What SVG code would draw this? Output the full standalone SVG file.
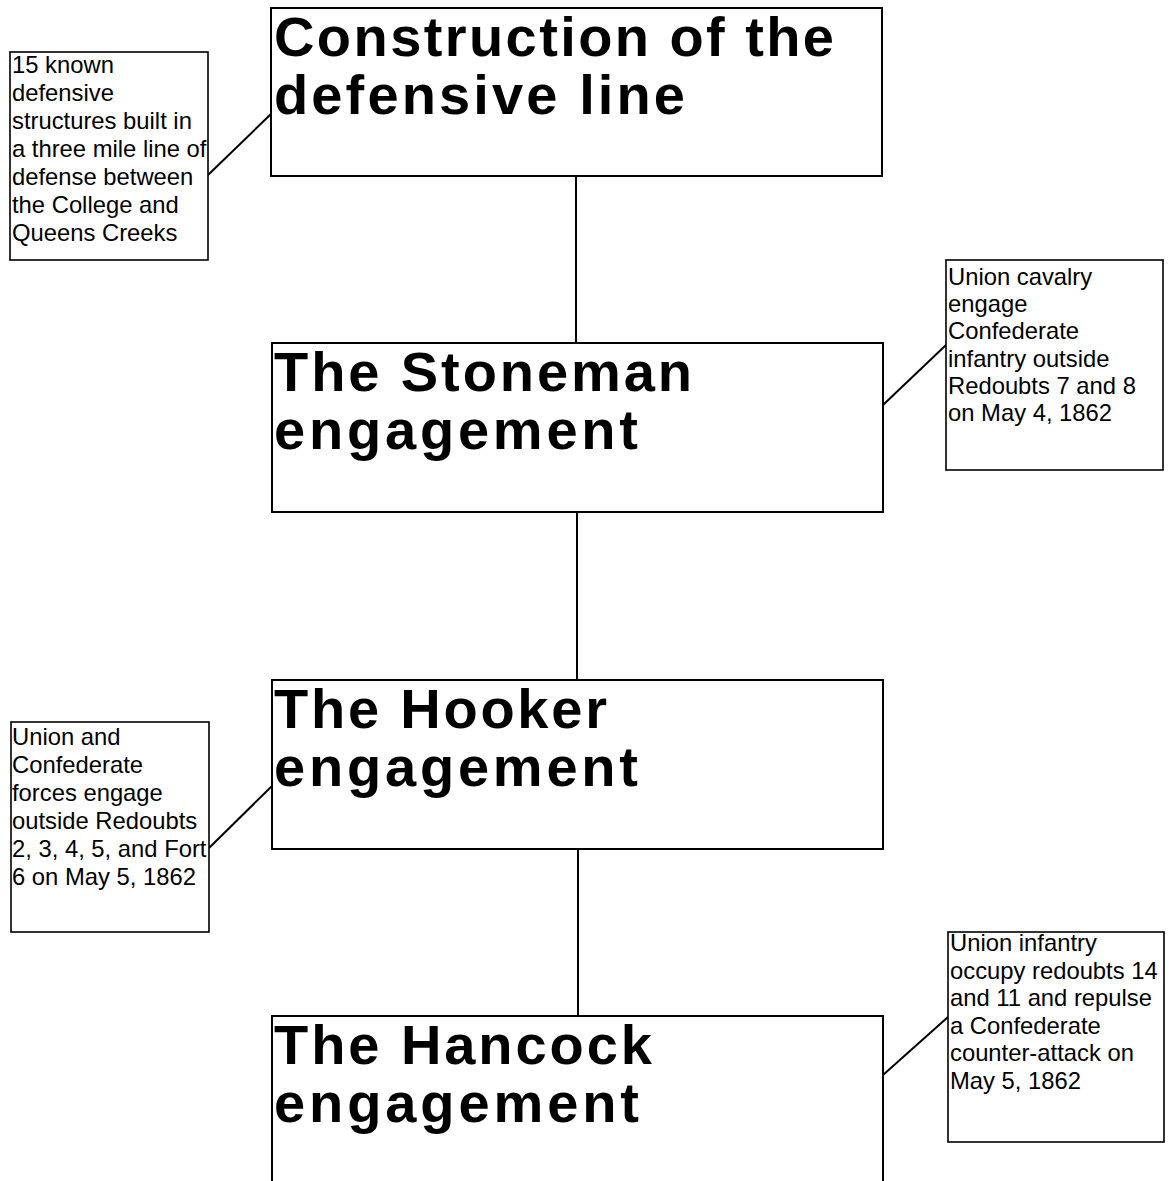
<svg xmlns="http://www.w3.org/2000/svg" width="1169" height="1181" viewBox="0 0 1169 1181">
<style>
.box{fill:#fff;stroke:#000;stroke-width:2}
.note{fill:#fff;stroke:#000;stroke-width:1.6}
.title{font-family:"Liberation Sans",Arial,sans-serif;font-weight:bold;font-size:56px;fill:#000}
.txt{font-family:"Liberation Sans",Arial,sans-serif;font-size:23.8px;fill:#000}
.conn{stroke:#000;stroke-width:2;fill:none}
</style>
<rect width="1169" height="1181" fill="#fff"/>
<g id="connectors">
<line class="conn" x1="576" y1="176" x2="576" y2="343"/>
<line class="conn" x1="577" y1="512" x2="577" y2="680"/>
<line class="conn" x1="578" y1="849" x2="578" y2="1016"/>
<line class="conn" x1="208" y1="175" x2="271" y2="114"/>
<line class="conn" x1="883" y1="405" x2="946" y2="345"/>
<line class="conn" x1="209" y1="848" x2="272" y2="786"/>
<line class="conn" x1="883" y1="1075" x2="948" y2="1017"/>
</g>
<g id="n1">
<rect class="box" x="271" y="8" width="611" height="168"/>
<text class="title"><tspan x="274" y="56" textLength="560" lengthAdjust="spacing">Construction of the</tspan><tspan x="274" y="114" textLength="411" lengthAdjust="spacing">defensive line</tspan></text>
</g>
<g id="n2">
<rect class="box" x="272" y="343" width="611" height="169"/>
<text class="title"><tspan x="274" y="391" textLength="418" lengthAdjust="spacing">The Stoneman</tspan><tspan x="274" y="449" textLength="364" lengthAdjust="spacing">engagement</tspan></text>
</g>
<g id="n3">
<rect class="box" x="272" y="680" width="611" height="169"/>
<text class="title"><tspan x="274" y="728" textLength="333" lengthAdjust="spacing">The Hooker</tspan><tspan x="274" y="786" textLength="364" lengthAdjust="spacing">engagement</tspan></text>
</g>
<g id="n4">
<rect class="box" x="272" y="1016" width="611" height="185"/>
<text class="title"><tspan x="274" y="1064" textLength="378" lengthAdjust="spacing">The Hancock</tspan><tspan x="274" y="1122" textLength="365" lengthAdjust="spacing">engagement</tspan></text>
</g>
<g id="note1">
<rect class="note" x="10" y="52" width="198" height="208"/>
<text class="txt" x="12" y="73">15 known</text>
<text class="txt" x="12" y="101">defensive</text>
<text class="txt" x="12" y="129">structures built in</text>
<text class="txt" x="12" y="157">a three mile line of</text>
<text class="txt" x="12" y="185">defense between</text>
<text class="txt" x="12" y="213">the College and</text>
<text class="txt" x="12" y="241">Queens Creeks</text>
</g>
<g id="note2">
<rect class="note" x="946" y="260" width="217" height="210"/>
<text class="txt" x="948" y="285">Union cavalry</text>
<text class="txt" x="948" y="312">engage</text>
<text class="txt" x="948" y="339">Confederate</text>
<text class="txt" x="948" y="367">infantry outside</text>
<text class="txt" x="948" y="394">Redoubts 7 and 8</text>
<text class="txt" x="948" y="421">on May 4, 1862</text>
</g>
<g id="note3">
<rect class="note" x="11" y="722" width="198" height="210"/>
<text class="txt" x="12" y="745">Union and</text>
<text class="txt" x="12" y="773">Confederate</text>
<text class="txt" x="12" y="801">forces engage</text>
<text class="txt" x="12" y="829">outside Redoubts</text>
<text class="txt" x="12" y="857">2, 3, 4, 5, and Fort</text>
<text class="txt" x="12" y="885">6 on May 5, 1862</text>
</g>
<g id="note4">
<rect class="note" x="948" y="932" width="216" height="210"/>
<text class="txt" x="950" y="951">Union infantry</text>
<text class="txt" x="950" y="979">occupy redoubts 14</text>
<text class="txt" x="950" y="1006">and 11 and repulse</text>
<text class="txt" x="950" y="1034">a Confederate</text>
<text class="txt" x="950" y="1061">counter-attack on</text>
<text class="txt" x="950" y="1089">May 5, 1862</text>
</g>
</svg>
